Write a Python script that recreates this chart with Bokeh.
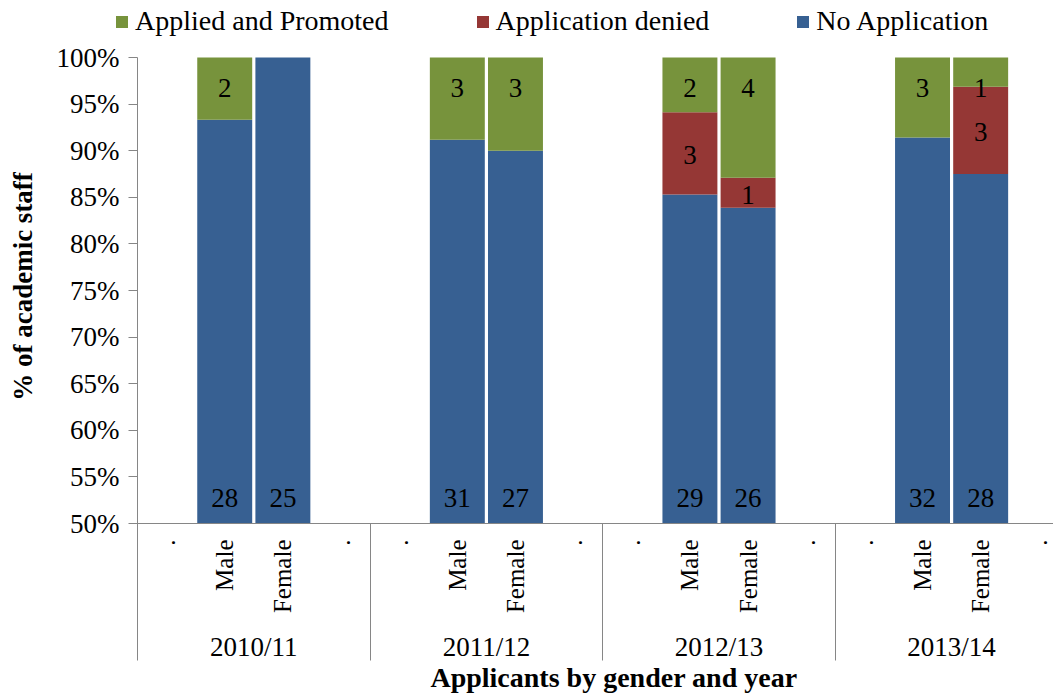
import math
from bokeh.plotting import figure
from bokeh.models import (ColumnDataSource, Range1d, LinearAxis, FixedTicker,
                          NumeralTickFormatter, Legend, LegendItem)
from bokeh.core.properties import value
from bokeh.embed import file_html
from bokeh.resources import INLINE

# ---------------- data ----------------
years = ["2010/11", "2011/12", "2012/13", "2013/14"]
genders = ["Male", "Female"]
slot_labels = [".", "Male", "Female", "."]
# order: (2010/11 Male, 2010/11 Female, 2011/12 Male, ...)
no_application = [28, 25, 31, 27, 29, 26, 32, 28]
application_denied = [0, 0, 0, 0, 3, 1, 0, 3]
applied_promoted = [2, 0, 3, 3, 2, 4, 3, 1]
series_names = ["Applied and Promoted", "Application denied", "No Application"]
series_colors = ["#77933C", "#953735", "#376092"]
y_ticks = [0.50, 0.55, 0.60, 0.65, 0.70, 0.75, 0.80, 0.85, 0.90, 0.95, 1.00]
y_axis_min = 0.50
y_axis_max = 1.00

# ---------------- styles / geometry ----------------
FONT = "Liberation Serif"
GRAY = "#868686"
FIG_W, FIG_H = 1053, 697
LEFT_PX = 137                # plot-area left edge
TOP_PX = 57                  # 100 % line
SLOT_PX = 58.15
PX_PER_UNIT = 932.0          # pixels per 100 %
LINE_PX = 137                # length of y-axis / separators below 50 %

n_slots = len(slot_labels)
xs = []
for i in range(len(years)):
    for j in range(len(genders)):
        xs.append(i * n_slots + slot_labels.index(genders[j]) + 0.5)

totals = [a + b + c for a, b, c in zip(no_application, application_denied, applied_promoted)]
blue_top = [a / t for a, t in zip(no_application, totals)]
red_top = [(a + b) / t for a, b, t in zip(no_application, application_denied, totals)]
green_top = [(a + b + c) / t for a, b, c, t in zip(no_application, application_denied, applied_promoted, totals)]

src = ColumnDataSource(dict(
    x=xs,
    blue_bottom=[y_axis_min] * len(xs), blue_top=blue_top,
    red_bottom=blue_top, red_top=red_top,
    green_bottom=red_top, green_top=green_top,
))

x_start = -LEFT_PX / SLOT_PX
x_end = (FIG_W - LEFT_PX) / SLOT_PX
y_end = y_axis_max + TOP_PX / PX_PER_UNIT
y_start = y_end - FIG_H / PX_PER_UNIT
y_line_start = y_axis_min - LINE_PX / PX_PER_UNIT

p = figure(width=FIG_W, height=FIG_H,
           x_range=Range1d(x_start, x_end),
           y_range=Range1d(y_start, y_end),
           x_axis_location=None, y_axis_location=None,
           toolbar_location=None, output_backend="svg",
           min_border_left=0, min_border_right=0,
           min_border_top=0, min_border_bottom=0)
p.grid.visible = False
p.outline_line_color = None
p.background_fill_color = "white"

BAR_W = 0.945
r_blue = p.vbar(x="x", bottom="blue_bottom", top="blue_top", width=BAR_W, source=src,
                fill_color=series_colors[2], line_color=None)
r_red = p.vbar(x="x", bottom="red_bottom", top="red_top", width=BAR_W, source=src,
               fill_color=series_colors[1], line_color=None)
r_green = p.vbar(x="x", bottom="green_bottom", top="green_top", width=BAR_W, source=src,
                 fill_color=series_colors[0], line_color=None)

# ---------------- data labels ----------------
lab_kw = dict(text_font=value(FONT), text_font_size="27px", text_align="center",
              text_baseline="middle", text_color="black")
p.text(x=xs, y=[y_axis_min] * len(xs), text=[str(v) for v in no_application],
       y_offset=-26, **lab_kw)
rx = [x for x, d in zip(xs, application_denied) if d > 0]
ry = [(a + b) / 2 for a, b, d in zip(blue_top, red_top, application_denied) if d > 0]
rt = [str(d) for d in application_denied if d > 0]
p.text(x=rx, y=ry, text=rt, y_offset=2, **lab_kw)
gx = [x for x, v in zip(xs, applied_promoted) if v > 0]
gy = [t for t, v in zip(green_top, applied_promoted) if v > 0]
gt = [str(v) for v in applied_promoted if v > 0]
p.text(x=gx, y=gy, text=gt, y_offset=30, **lab_kw)

# ---------------- y axis ----------------
ya = LinearAxis(fixed_location=0, ticker=FixedTicker(ticks=y_ticks),
                formatter=NumeralTickFormatter(format="0%"),
                bounds=(y_line_start, y_axis_max),
                axis_line_color=GRAY, major_tick_line_color=GRAY,
                major_tick_in=0, major_tick_out=9, minor_tick_line_color=None,
                major_label_standoff=9, major_label_text_font=FONT,
                major_label_text_font_size="27px", major_label_text_color="black")
p.add_layout(ya, "left")

# axis title centred on the 50-100 % span
yt = LinearAxis(fixed_location=0, ticker=FixedTicker(ticks=[]),
                bounds=(2 * 0.7543 - y_axis_max, y_axis_max),
                axis_line_color=None, major_tick_line_color=None,
                minor_tick_line_color=None, major_label_text_color=None,
                axis_label="% of academic staff", axis_label_standoff=100,
                axis_label_text_font=FONT, axis_label_text_font_style="bold",
                axis_label_text_font_size="27px", axis_label_text_color="black")
p.add_layout(yt, "left")

# ---------------- x axes (category labels, group labels, separators) ----------------
slot_centers = [i * n_slots + k + 0.5 for i in range(len(years)) for k in range(n_slots)]
slot_text = {c: slot_labels[k % n_slots] for k, c in enumerate(slot_centers)}
xa = LinearAxis(fixed_location=y_axis_min, ticker=FixedTicker(ticks=slot_centers),
                bounds=(0, x_end),
                major_label_overrides=slot_text, major_label_orientation=math.pi / 2,
                major_tick_line_color=None, major_tick_in=0, major_tick_out=0,
                minor_tick_line_color=None, axis_line_color=GRAY,
                major_label_standoff=16, major_label_text_font=FONT,
                major_label_text_font_size="25px", major_label_text_color="black")
p.add_layout(xa, "below")

group_centers = [i * n_slots + n_slots / 2 for i in range(len(years))]
xg = LinearAxis(fixed_location=y_axis_min, ticker=FixedTicker(ticks=group_centers),
                major_label_overrides={c: y for c, y in zip(group_centers, years)},
                major_tick_line_color=None, major_tick_in=0, major_tick_out=0,
                minor_tick_line_color=None, axis_line_color=None,
                bounds=(0.85, 15.55),
                major_label_standoff=108, major_label_text_font=FONT,
                major_label_text_font_size="27px", major_label_text_color="black",
                axis_label="Applicants by gender and year",
                axis_label_standoff=-3, axis_label_text_font=FONT,
                axis_label_text_font_style="bold", axis_label_text_font_size="28px",
                axis_label_text_color="black")
p.add_layout(xg, "below")

sep_ticks = [i * n_slots for i in range(1, len(years))]
xs_sep = LinearAxis(fixed_location=y_axis_min, ticker=FixedTicker(ticks=sep_ticks),
                    major_tick_line_color=GRAY, major_tick_in=0, major_tick_out=LINE_PX,
                    minor_tick_line_color=None, axis_line_color=None,
                    major_label_text_color=None)
p.add_layout(xs_sep, "below")

# ---------------- legend ----------------
legend = Legend(items=[LegendItem(label=series_names[0], renderers=[r_green]),
                       LegendItem(label=series_names[1], renderers=[r_red]),
                       LegendItem(label=series_names[2], renderers=[r_blue])],
                orientation="horizontal", location=(114, 660),
                label_text_font=FONT, label_text_font_size="28px",
                label_text_color="black",
                glyph_width=15, glyph_height=15, label_standoff=6, spacing=86,
                padding=0, margin=0, border_line_color=None,
                background_fill_alpha=0)
p.add_layout(legend, "center")

open("out.html", "w").write(file_html(p, INLINE))
